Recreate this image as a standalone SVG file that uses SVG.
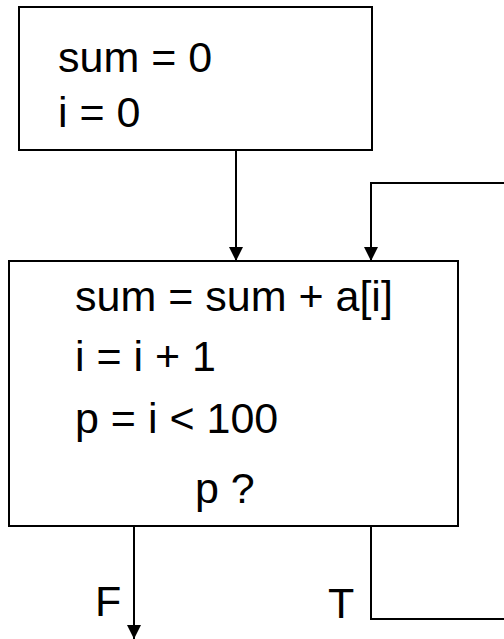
<svg xmlns="http://www.w3.org/2000/svg" width="504" height="639" viewBox="0 0 504 639">
<style>
.box{fill:#fff;stroke:#000;stroke-width:2}
.ln{fill:none;stroke:#000;stroke-width:2}
text{font-family:"Liberation Sans",Arial,sans-serif;font-size:43px;fill:#000}
</style>
<defs>
<marker id="ah" markerUnits="userSpaceOnUse" markerWidth="16" markerHeight="14" refX="14" refY="7" orient="auto">
<path d="M0,0 L14,7 L0,14 Z" fill="#000"/>
</marker>
</defs>
<g id="init">
<rect class="box" x="19" y="7" width="353" height="143"/>
<text x="58" y="72">sum = 0</text>
<text x="58" y="127">i = 0</text>
</g>
<g id="body">
<rect class="box" x="9" y="261" width="449" height="265"/>
<text x="75" y="311">sum = sum + a[i]</text>
<text x="75" y="371">i = i + 1</text>
<text x="75" y="433">p = i &lt; 100</text>
<text x="195" y="503">p ?</text>
</g>
<g id="connectors">
<path class="ln" d="M236,150 V261" marker-end="url(#ah)"/>
<path class="ln" d="M504,183 H371 V261" marker-end="url(#ah)"/>
<path class="ln" d="M134,526 V639" marker-end="url(#ah)"/>
<path class="ln" d="M371,526 V619 H504"/>
<text x="95" y="616">F</text>
<text x="328" y="618">T</text>
</g>
</svg>
